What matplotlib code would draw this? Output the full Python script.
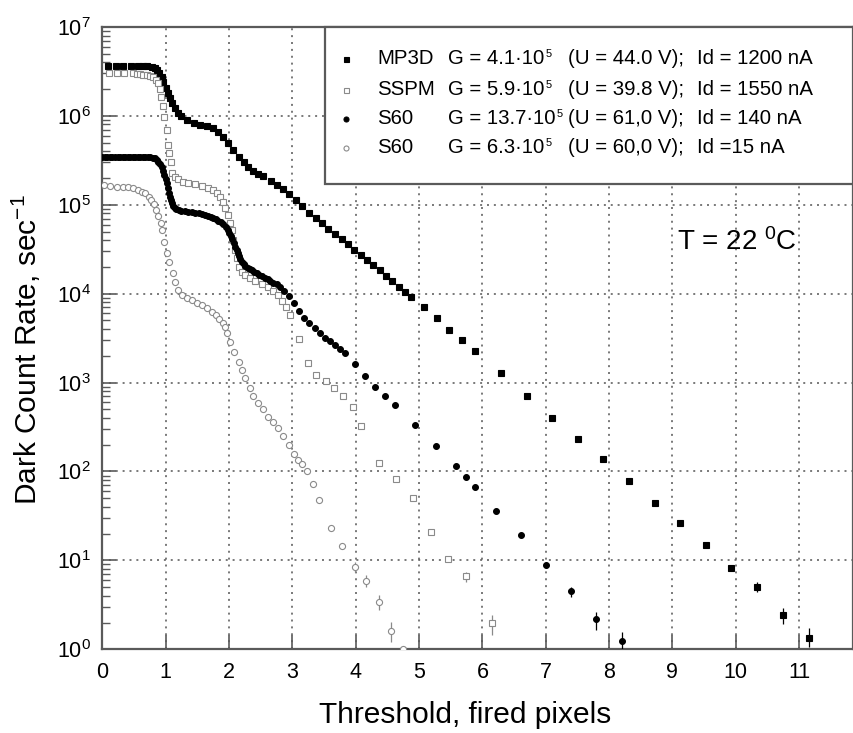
import numpy as np
import matplotlib
matplotlib.use("Agg")
import matplotlib.pyplot as plt
from matplotlib.patches import Rectangle
from matplotlib.ticker import LogLocator, NullFormatter, FixedLocator

plt.rcParams['font.family'] = ['Liberation Sans', 'DejaVu Sans']
plt.rcParams['mathtext.fontset'] = 'custom'
plt.rcParams['mathtext.rm'] = 'Liberation Sans'
plt.rcParams['mathtext.it'] = 'Liberation Sans:italic'
plt.rcParams['mathtext.bf'] = 'Liberation Sans:bold'

# ---------------- data (threshold in fired pixels, log10 of dark count rate) -------------
mp3d_x = [0.095, 0.216, 0.331, 0.448, 0.568, 0.647, 0.710, 0.780, 0.832,
          0.86, 0.90, 0.94, 0.96, 1.01, 1.03, 1.07, 1.10, 1.15, 1.19, 1.24, 1.33, 1.44,
          1.54, 1.65, 1.75, 1.83, 1.91, 1.99, 2.07, 2.15, 2.23, 2.30, 2.38, 2.46, 2.54,
          2.66, 2.76, 2.86, 2.95, 3.06, 3.16, 3.27, 3.37, 3.47, 3.57, 3.68, 3.78, 3.88,
          3.98, 4.08, 4.18, 4.28, 4.38, 4.48, 4.58, 4.68, 4.78, 4.88, 5.08, 5.29, 5.48,
          5.68, 5.89, 6.29, 6.70, 7.10, 7.51, 7.91, 8.31, 8.72, 9.12, 9.53, 9.93, 10.34,
          10.74, 11.16]
mp3d_lg = [6.561, 6.561, 6.561, 6.561, 6.561, 6.558, 6.556, 6.550, 6.540,
           6.516, 6.479, 6.434, 6.385, 6.310, 6.254, 6.198, 6.142, 6.086, 6.036, 5.999, 5.954, 5.924,
           5.898, 5.886, 5.860, 5.822, 5.759, 5.692, 5.617, 5.541, 5.478, 5.422, 5.380, 5.346, 5.324,
           5.268, 5.226, 5.174, 5.122, 5.054, 4.987, 4.911, 4.848, 4.795, 4.731, 4.671, 4.615, 4.559,
           4.495, 4.435, 4.375, 4.319, 4.263, 4.202, 4.141, 4.079, 4.018, 3.959, 3.850, 3.723, 3.595,
           3.479, 3.352, 3.108, 2.849, 2.605, 2.366, 2.137, 1.893, 1.646, 1.417, 1.173, 0.915, 0.697,
           0.386, 0.127]
mp3d_err_x = [9.93, 10.34, 10.74, 11.16]
mp3d_err_lo = [0.88, 0.64, 0.28, 0.03]
mp3d_err_hi = [0.95, 0.76, 0.47, 0.24]

sspm_x = [0.11, 0.23, 0.35, 0.48, 0.54, 0.60, 0.65, 0.70, 0.75, 0.80, 0.84, 0.88, 0.91, 0.93,
          0.96, 0.98, 1.02, 1.04, 1.06, 1.08, 1.10, 1.15, 1.20, 1.28, 1.36, 1.46, 1.57, 1.67,
          1.75, 1.81, 1.86, 1.91, 1.94, 1.98, 2.02, 2.04, 2.07, 2.09, 2.12, 2.16, 2.20, 2.25,
          2.33, 2.41, 2.52, 2.62, 2.70, 2.78, 2.83, 2.90, 2.96, 3.11, 3.24, 3.38, 3.53, 3.66,
          3.80, 3.95, 4.08, 4.36, 4.63, 4.91, 5.19, 5.46, 5.74, 6.15]
sspm_lg = [6.479, 6.479, 6.479, 6.479, 6.472, 6.468, 6.464, 6.457, 6.449, 6.434, 6.404, 6.366, 6.302, 6.216,
           6.115, 5.991, 5.841, 5.672, 5.578, 5.484, 5.354, 5.316, 5.287, 5.260, 5.242, 5.230, 5.211, 5.186,
           5.167, 5.129, 5.091, 5.035, 4.961, 4.885, 4.792, 4.717, 4.604, 4.492, 4.398, 4.304, 4.247, 4.210,
           4.173, 4.146, 4.109, 4.079, 4.035, 3.985, 3.918, 3.854, 3.760, 3.494, 3.217, 3.085, 3.018, 2.940,
           2.849, 2.724, 2.512, 2.099, 1.916, 1.702, 1.316, 1.016, 0.825, 0.292]
sspm_err_x = [5.46, 5.74, 6.15]
sspm_err_lo = [0.98, 0.760, 0.161]
sspm_err_hi = [1.05, 0.873, 0.386]

s60a_x = [0.00, 0.04, 0.08, 0.12, 0.16, 0.20, 0.24, 0.28, 0.32, 0.36, 0.40, 0.44, 0.48, 0.52,
          0.56, 0.60, 0.64, 0.68, 0.72, 0.76, 0.80, 0.83, 0.86, 0.88, 0.91, 0.94, 0.96, 0.98,
          1.00, 1.02, 1.035, 1.05, 1.065, 1.08, 1.10, 1.12, 1.145, 1.17, 1.21, 1.25, 1.30, 1.36,
          1.41, 1.46, 1.52, 1.57, 1.62, 1.67, 1.71, 1.75, 1.79, 1.83, 1.87, 1.91, 1.945, 1.98,
          2.005, 2.03, 2.055, 2.08, 2.10, 2.12, 2.14, 2.16, 2.18, 2.20, 2.23, 2.26, 2.30, 2.33,
          2.36, 2.40, 2.44, 2.48, 2.52, 2.57, 2.61, 2.65, 2.70, 2.75, 2.81, 2.87, 2.95, 3.03,
          3.11, 3.18, 3.27, 3.35, 3.44, 3.52, 3.59, 3.68, 3.75, 3.83, 3.99, 4.15, 4.30, 4.46,
          4.62, 4.94, 5.26, 5.58, 5.74, 5.89, 6.21, 6.61, 7.00, 7.40, 7.80, 8.20]
s60a_lg = [5.537, 5.537, 5.537, 5.537, 5.537, 5.537, 5.537, 5.537, 5.537, 5.537, 5.537, 5.537, 5.537, 5.537,
           5.537, 5.537, 5.537, 5.537, 5.536, 5.535, 5.530, 5.523, 5.505, 5.485, 5.460, 5.429, 5.385, 5.335,
           5.290, 5.242, 5.185, 5.129, 5.090, 5.054, 5.020, 4.987, 4.965, 4.949, 4.940, 4.934, 4.928, 4.922,
           4.916, 4.911, 4.902, 4.893, 4.884, 4.874, 4.864, 4.852, 4.837, 4.821, 4.802, 4.781, 4.750, 4.717,
           4.685, 4.649, 4.610, 4.567, 4.530, 4.492, 4.458, 4.424, 4.390, 4.360, 4.330, 4.310, 4.290, 4.276,
           4.262, 4.245, 4.229, 4.210, 4.195, 4.180, 4.160, 4.143, 4.125, 4.106, 4.079, 4.034, 3.974, 3.899,
           3.809, 3.730, 3.667, 3.611, 3.555, 3.505, 3.471, 3.423, 3.378, 3.330, 3.206, 3.074, 2.952, 2.849,
           2.748, 2.523, 2.287, 2.058, 1.935, 1.829, 1.556, 1.282, 0.945, 0.656, 0.341, 0.090]
s60a_err_x = [7.00, 7.40, 7.80, 8.20]
s60a_err_lo = [0.91, 0.59, 0.22, 0.00]
s60a_err_hi = [0.98, 0.70, 0.42, 0.20]

s60b_x = [0.02, 0.12, 0.23, 0.33, 0.41, 0.49, 0.57, 0.62, 0.67, 0.73, 0.77, 0.81, 0.84, 0.88,
          0.92, 0.95, 0.98, 1.02, 1.05, 1.11, 1.15, 1.20, 1.26, 1.33, 1.41, 1.49, 1.57, 1.65,
          1.73, 1.79, 1.84, 1.90, 1.94, 1.97, 2.02, 2.08, 2.15, 2.20, 2.25, 2.33, 2.38, 2.45,
          2.53, 2.62, 2.70, 2.78, 2.86, 2.95, 3.03, 3.09, 3.15, 3.23, 3.32, 3.42, 3.61, 3.79,
          3.99, 4.17, 4.37, 4.55, 4.75]
s60b_lg = [5.223, 5.212, 5.204, 5.204, 5.197, 5.186, 5.167, 5.148, 5.129, 5.091, 5.054, 5.009, 4.942, 4.874,
           4.792, 4.717, 4.585, 4.461, 4.360, 4.236, 4.135, 4.042, 3.990, 3.955, 3.925, 3.897, 3.873, 3.840,
           3.798, 3.760, 3.715, 3.665, 3.630, 3.555, 3.460, 3.348, 3.235, 3.142, 3.048, 2.936, 2.849, 2.767,
           2.700, 2.616, 2.560, 2.490, 2.400, 2.300, 2.200, 2.130, 2.081, 2.009, 1.856, 1.683, 1.368, 1.159,
           0.929, 0.772, 0.532, 0.206, 0.000]
s60b_err_x = [3.99, 4.17, 4.37, 4.55]
s60b_err_lo = [0.873, 0.704, 0.44, 0.085]
s60b_err_hi = [0.985, 0.836, 0.61, 0.31]

leg_names = ["MP3D", "SSPM", "S60", "S60"]
leg_gain = ["G = 4.1\u00b710", "G = 5.9\u00b710", "G = 13.7\u00b710", "G = 6.3\u00b710"]
leg_gain_exp = ["5", "5", "5", "5"]
leg_volt = ["(U = 44.0 V);", "(U = 39.8 V);", "(U = 61,0 V);", "(U = 60,0 V);"]
leg_curr = ["Id = 1200 nA", "Id = 1550 nA", "Id = 140 nA", "Id =15 nA"]

x_ticks = [0, 1, 2, 3, 4, 5, 6, 7, 8, 9, 10, 11]

# ---------------- figure -------------
GRAY = '#8a8a8a'
SPINE = '#5a5a5a'
fig = plt.figure(figsize=(8.54, 7.33), dpi=100)
ax = fig.add_axes([0.1198, 0.1142, 0.8790, 0.8490])
ax.set_yscale('log')
ax.set_xlim(0, 11.85)
ax.set_ylim(1, 1e7)

def pw(v):
    return 10 ** np.asarray(v, dtype=float)

series = [
    (mp3d_x, mp3d_lg, mp3d_err_x, mp3d_err_lo, mp3d_err_hi, 's', 'black', 'black', 4.0),
    (sspm_x, sspm_lg, sspm_err_x, sspm_err_lo, sspm_err_hi, 's', 'white', GRAY, 4.0),
    (s60a_x, s60a_lg, s60a_err_x, s60a_err_lo, s60a_err_hi, 'o', 'black', 'black', 4.2),
    (s60b_x, s60b_lg, s60b_err_x, s60b_err_lo, s60b_err_hi, 'o', 'white', GRAY, 4.4),
]
for xs, lg, ex, elo, ehi, mk, fc, ec, ms in series:
    ax.vlines(ex, pw(elo), pw(ehi), colors=ec, lw=0.9, zorder=3)
    ax.plot(xs, pw(lg), linestyle='none', marker=mk, ms=ms, mfc=fc, mec=ec,
            mew=0.8, zorder=4)

# grid
ax.grid(True, which='major', linestyle=(0, (1.3, 3.2)), color='#555555', lw=1.1)
ax.set_axisbelow(True)

# ticks
ax.xaxis.set_major_locator(FixedLocator(x_ticks))
ax.yaxis.set_major_locator(LogLocator(base=10, numticks=10))
ax.yaxis.set_minor_locator(LogLocator(base=10, subs=np.arange(2, 10), numticks=100))
ax.yaxis.set_minor_formatter(NullFormatter())
ax.tick_params(axis='both', which='major', direction='in', length=10, width=1.2,
               color=SPINE, labelsize=15.5, top=False, right=False)
ax.tick_params(axis='y', which='minor', direction='in', length=6, width=1.0,
               color=SPINE, right=False)
ax.tick_params(axis='y', which='major', pad=8)
ax.tick_params(axis='x', which='major', pad=9)
ax.xaxis.get_offset_text().set_visible(False)
ax.yaxis.get_offset_text().set_visible(False)
for s in ax.spines.values():
    s.set_color(SPINE)
    s.set_linewidth(1.6)

ax.set_xlabel("Threshold, fired pixels", fontsize=21.5)
ax.set_ylabel("Dark Count Rate, sec$^{-1}$", fontsize=21.5)
ax.xaxis.set_label_coords(0.483, -0.083)
ax.yaxis.set_label_coords(-0.079, 0.481)

ax.text(0.7656, 0.6545, "T = 22 $^0$C", transform=ax.transAxes, fontsize=20,
        ha='left', va='center')

# legend box
ax.add_patch(Rectangle((0.2967, 0.7477), 0.7033, 0.2523, transform=ax.transAxes,
                       facecolor='white', edgecolor=SPINE, lw=1.6, zorder=6,
                       clip_on=False))
row_y = [0.9486, 0.8994, 0.8528, 0.8062]
styles = [('s', 'black', 'black'), ('s', 'white', GRAY), ('o', 'black', 'black'), ('o', 'white', GRAY)]
LFS = 14.7
for i, yy in enumerate(row_y):
    mk, fc, ec = styles[i]
    ax.plot([0.3245], [yy], transform=ax.transAxes, linestyle='none', marker=mk,
            ms=3.6, mfc=fc, mec=ec, mew=0.8, zorder=7, clip_on=False)
    ax.text(0.3663, yy, leg_names[i], transform=ax.transAxes, fontsize=LFS,
            va='center', ha='left', zorder=7)
    tg = ax.text(0.4609, yy, leg_gain[i], transform=ax.transAxes, fontsize=LFS,
                 va='center', ha='left', zorder=7)
    ax.annotate(leg_gain_exp[i], xy=(1.0, 1.02), xycoords=tg, xytext=(0.5, 0),
                textcoords='offset points', ha='left', va='top', fontsize=8, zorder=7)
    ax.text(0.6208, yy, leg_volt[i], transform=ax.transAxes, fontsize=LFS,
            va='center', ha='left', zorder=7)
    ax.text(0.7918, yy, leg_curr[i], transform=ax.transAxes, fontsize=LFS,
            va='center', ha='left', zorder=7)

fig.savefig("out.png", dpi=100)
